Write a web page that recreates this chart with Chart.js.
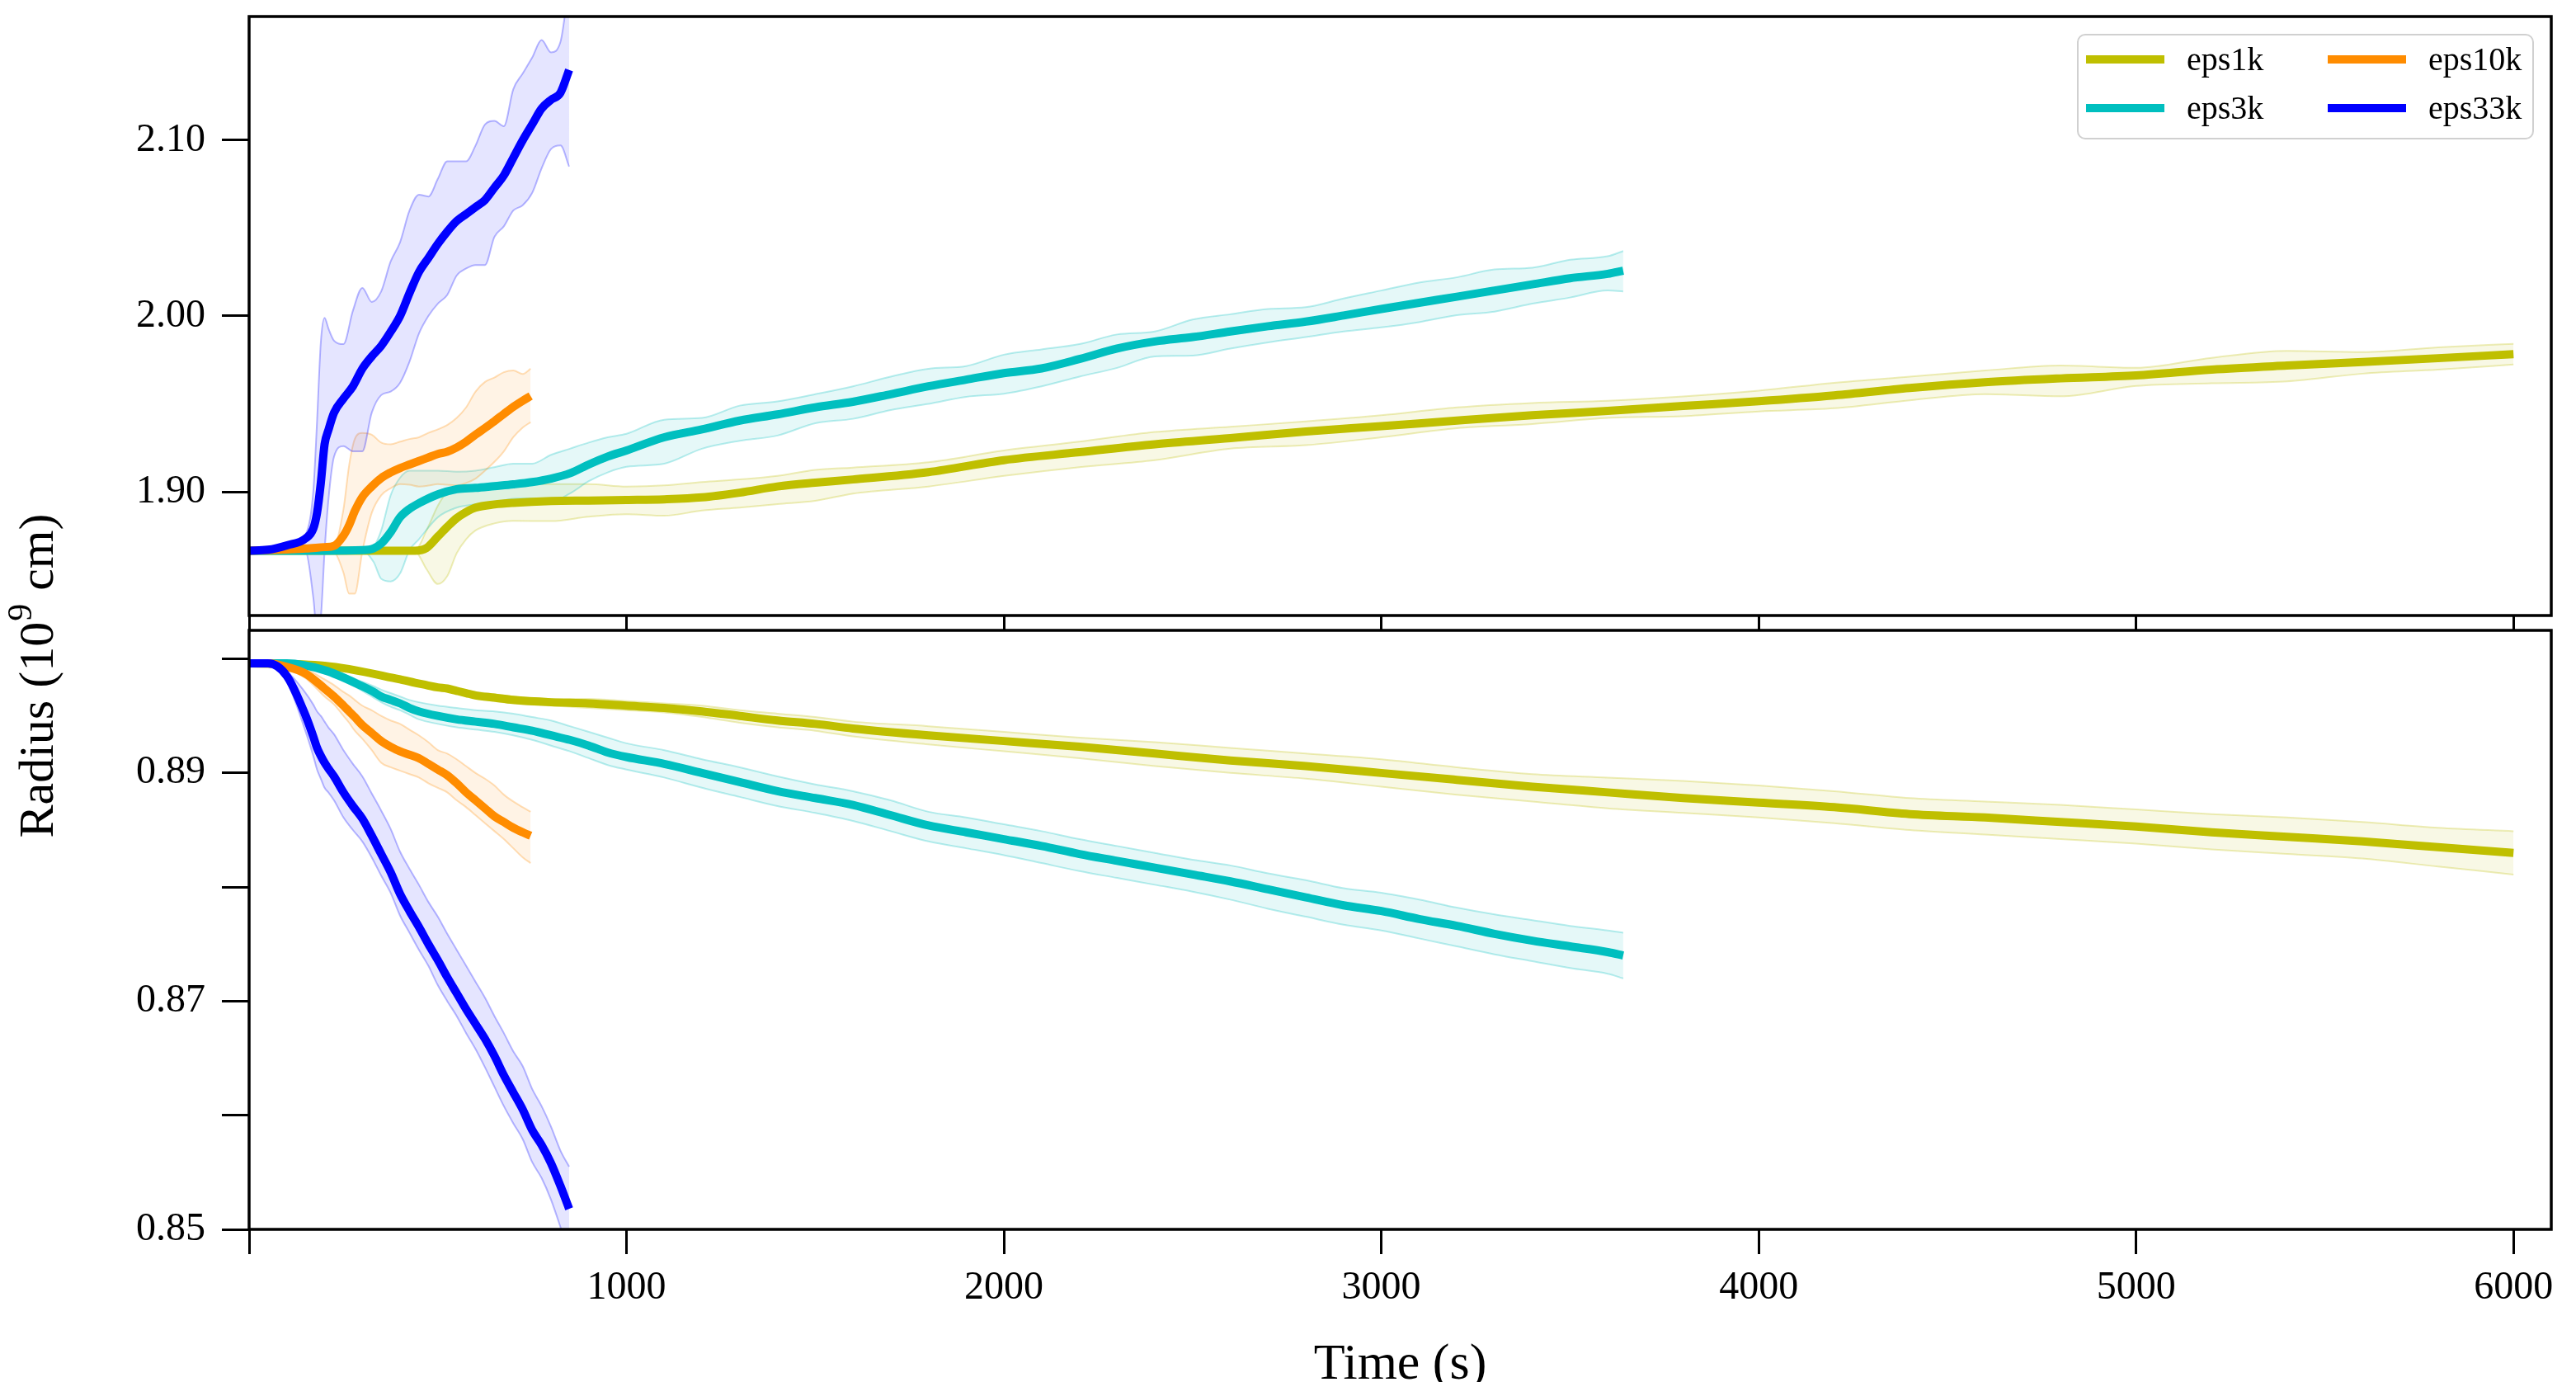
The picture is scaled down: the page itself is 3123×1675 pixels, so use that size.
<!DOCTYPE html>
<html>
<head>
<meta charset="utf-8">
<script src="https://cdn.jsdelivr.net/npm/chart.js@4.4.1/dist/chart.umd.min.js"></script>
<style>
html,body{margin:0;padding:0;background:#ffffff;}
#wrap{position:relative;width:3123px;height:1675px;overflow:hidden;background:#fff;}
#wrap canvas{position:absolute;left:0;top:0;}
</style>
</head>
<body>
<div id="wrap">
<canvas id="cTop" width="3123" height="1675"></canvas>
<canvas id="cBot" width="3123" height="1675"></canvas>
</div>
<script>
// ---------------- data ----------------
const SERIES = ['eps1k', 'eps3k', 'eps10k', 'eps33k'];
const X_TICKS = [0, 1000, 2000, 3000, 4000, 5000, 6000];
const TOP_Y_TICKS = [1.90, 2.00, 2.10];
const BOT_Y_TICKS = [0.85, 0.86, 0.87, 0.88, 0.89, 0.90];
const BOT_Y_LABELED = [0.85, 0.87, 0.89];
const X_TITLE = 'Time (s)';
const Y_TITLE_PARTS = ['Radius (10', '9', ' cm)'];

// eps1k
const T_1K = [0,200,400,440,470,500,525,550,575,600,650,700,800,900,1000,1100,1200,1300,1400,1500,1600,1800,2000,2200,2400,2600,2800,3000,3200,3400,3600,3800,4000,4200,4400,4600,4800,5000,5200,5400,5600,5800,6000];
const TOP_1K_MEAN = [1.8665,1.8665,1.8665,1.8665,1.8680,1.8745,1.8800,1.8850,1.8885,1.8910,1.8928,1.8937,1.8947,1.8950,1.8953,1.8957,1.8968,1.8995,1.9030,1.9052,1.9070,1.9112,1.9180,1.9225,1.9270,1.9305,1.9343,1.9373,1.9405,1.9435,1.9460,1.9488,1.9515,1.9548,1.9590,1.9623,1.9645,1.9662,1.9695,1.9718,1.9738,1.9760,1.9783];
const TOP_1K_HI = [1.8665,1.8665,1.8665,1.8668,1.8780,1.8920,1.9000,1.9020,1.9035,1.9038,1.9042,1.9044,1.9044,1.9044,1.9030,1.9036,1.9055,1.9070,1.9090,1.9125,1.9138,1.9168,1.9235,1.9285,1.9340,1.9370,1.9400,1.9435,1.9480,1.9505,1.9518,1.9542,1.9575,1.9620,1.9655,1.9690,1.9718,1.9705,1.9762,1.9802,1.9795,1.9822,1.9842];
const TOP_1K_LO = [1.8665,1.8665,1.8665,1.8660,1.8560,1.8475,1.8520,1.8650,1.8730,1.8780,1.8820,1.8835,1.8833,1.8858,1.8872,1.8864,1.8893,1.8910,1.8930,1.8948,1.8990,1.9030,1.9090,1.9140,1.9180,1.9245,1.9265,1.9310,1.9362,1.9385,1.9420,1.9430,1.9457,1.9475,1.9520,1.9555,1.9543,1.9602,1.9617,1.9628,1.9672,1.9695,1.9724];
const BOT_1K_MEAN = [0.8996,0.8994,0.8982,0.8979,0.8977,0.8975,0.8974,0.8972,0.8970,0.8968,0.8966,0.8964,0.8962,0.8961,0.8959,0.8957,0.8954,0.8950,0.8946,0.8943,0.8939,0.8933,0.8928,0.8923,0.8917,0.8911,0.8906,0.8900,0.8894,0.8888,0.8883,0.8878,0.8874,0.8870,0.8864,0.8861,0.8857,0.8853,0.8848,0.8844,0.8840,0.8835,0.8830];
const BOT_1K_HI = [0.8997,0.8995,0.8984,0.8981,0.8979,0.8977,0.8976,0.8974,0.8972,0.8971,0.8969,0.8967,0.8965,0.8965,0.8963,0.8961,0.8959,0.8955,0.8952,0.8949,0.8945,0.8941,0.8936,0.8931,0.8927,0.8922,0.8917,0.8912,0.8905,0.8899,0.8896,0.8893,0.8889,0.8884,0.8878,0.8875,0.8872,0.8868,0.8864,0.8861,0.8857,0.8852,0.8849];
const BOT_1K_LO = [0.8995,0.8993,0.8980,0.8977,0.8975,0.8973,0.8972,0.8970,0.8968,0.8966,0.8963,0.8961,0.8959,0.8957,0.8955,0.8953,0.8949,0.8944,0.8940,0.8937,0.8932,0.8925,0.8919,0.8913,0.8906,0.8900,0.8895,0.8888,0.8881,0.8875,0.8869,0.8865,0.8861,0.8856,0.8850,0.8846,0.8842,0.8838,0.8833,0.8829,0.8825,0.8818,0.8811];

// eps3k
const T_3K = [0,100,200,300,330,350,375,400,425,450,500,550,600,650,700,750,800,850,900,950,1000,1100,1200,1300,1400,1500,1600,1700,1800,1900,2000,2100,2200,2300,2400,2500,2600,2700,2800,2900,3000,3100,3200,3300,3400,3500,3600,3641];
const TOP_3K_MEAN = [1.8665,1.8665,1.8665,1.8668,1.8678,1.8705,1.8770,1.8855,1.8903,1.8935,1.8985,1.9015,1.9022,1.9032,1.9042,1.9055,1.9075,1.9105,1.9155,1.9200,1.9235,1.9310,1.9355,1.9405,1.9440,1.9480,1.9512,1.9555,1.9600,1.9638,1.9675,1.9702,1.9755,1.9815,1.9855,1.9880,1.9912,1.9942,1.9968,2.0003,2.0040,2.0075,2.0110,2.0145,2.0180,2.0215,2.0240,2.0258];
const TOP_3K_HI = [1.8665,1.8665,1.8665,1.8668,1.8690,1.8780,1.8980,1.9080,1.9120,1.9120,1.9120,1.9114,1.9120,1.9140,1.9160,1.9160,1.9210,1.9245,1.9280,1.9310,1.9330,1.9410,1.9420,1.9490,1.9514,1.9555,1.9600,1.9655,1.9700,1.9715,1.9780,1.9810,1.9840,1.9895,1.9912,1.9980,2.0010,2.0040,2.0050,2.0100,2.0145,2.0190,2.0220,2.0265,2.0275,2.0320,2.0340,2.0370];
const TOP_3K_LO = [1.8665,1.8665,1.8665,1.8665,1.8600,1.8505,1.8490,1.8535,1.8668,1.8730,1.8855,1.8910,1.8928,1.8938,1.8960,1.8962,1.8945,1.8990,1.9060,1.9110,1.9142,1.9160,1.9245,1.9290,1.9320,1.9390,1.9415,1.9465,1.9500,1.9540,1.9558,1.9600,1.9655,1.9705,1.9770,1.9775,1.9815,1.9850,1.9880,1.9912,1.9935,1.9965,2.0005,2.0025,2.0070,2.0105,2.0145,2.0140];
const BOT_3K_MEAN = [0.8996,0.8996,0.8990,0.8976,0.8971,0.8967,0.8964,0.8961,0.8957,0.8954,0.8950,0.8947,0.8945,0.8943,0.8940,0.8937,0.8933,0.8929,0.8924,0.8918,0.8914,0.8908,0.8900,0.8892,0.8884,0.8878,0.8872,0.8863,0.8854,0.8848,0.8842,0.8836,0.8829,0.8823,0.8817,0.8811,0.8805,0.8798,0.8791,0.8784,0.8779,0.8772,0.8766,0.8759,0.8753,0.8748,0.8743,0.8740];
const BOT_3K_HI = [0.8997,0.8997,0.8992,0.8980,0.8976,0.8973,0.8970,0.8967,0.8964,0.8962,0.8959,0.8957,0.8955,0.8954,0.8952,0.8949,0.8946,0.8941,0.8936,0.8931,0.8926,0.8920,0.8912,0.8905,0.8897,0.8890,0.8884,0.8876,0.8866,0.8861,0.8855,0.8849,0.8842,0.8836,0.8830,0.8824,0.8819,0.8812,0.8806,0.8799,0.8795,0.8789,0.8782,0.8776,0.8771,0.8766,0.8762,0.8760];
const BOT_3K_LO = [0.8995,0.8995,0.8988,0.8972,0.8966,0.8962,0.8958,0.8955,0.8951,0.8947,0.8943,0.8940,0.8938,0.8936,0.8933,0.8929,0.8924,0.8919,0.8913,0.8907,0.8903,0.8896,0.8887,0.8879,0.8871,0.8865,0.8858,0.8849,0.8840,0.8834,0.8828,0.8821,0.8814,0.8808,0.8802,0.8796,0.8789,0.8781,0.8774,0.8767,0.8762,0.8755,0.8748,0.8741,0.8735,0.8729,0.8724,0.8720];

// eps10k
const T_10K = [0,50,100,150,200,225,250,265,280,300,325,350,375,400,425,450,475,500,525,550,575,600,625,650,675,700,725,746];
const TOP_10K_MEAN = [1.8665,1.8668,1.8672,1.8677,1.8685,1.8692,1.8750,1.8810,1.8890,1.8970,1.9030,1.9078,1.9110,1.9135,1.9155,1.9175,1.9195,1.9215,1.9228,1.9252,1.9285,1.9325,1.9363,1.9402,1.9443,1.9483,1.9518,1.9545];
const TOP_10K_HI = [1.8665,1.8668,1.8672,1.8677,1.8685,1.8690,1.8900,1.9150,1.9300,1.9335,1.9325,1.9280,1.9270,1.9285,1.9300,1.9310,1.9335,1.9355,1.9380,1.9420,1.9480,1.9570,1.9625,1.9650,1.9680,1.9690,1.9670,1.9700];
const TOP_10K_LO = [1.8665,1.8665,1.8668,1.8670,1.8672,1.8660,1.8540,1.8420,1.8420,1.8660,1.8880,1.8980,1.9020,1.9044,1.9040,1.9030,1.9035,1.9044,1.9040,1.9036,1.9050,1.9075,1.9120,1.9170,1.9230,1.9310,1.9365,1.9396];
const BOT_10K_MEAN = [0.8996,0.8996,0.8993,0.8987,0.8974,0.8967,0.8959,0.8954,0.8949,0.8942,0.8935,0.8928,0.8923,0.8919,0.8916,0.8913,0.8908,0.8903,0.8898,0.8891,0.8883,0.8876,0.8869,0.8862,0.8857,0.8852,0.8848,0.8845];
const BOT_10K_HI = [0.8996,0.8996,0.8995,0.8991,0.8982,0.8977,0.8971,0.8968,0.8964,0.8959,0.8955,0.8950,0.8946,0.8943,0.8938,0.8933,0.8927,0.8920,0.8917,0.8912,0.8906,0.8900,0.8895,0.8889,0.8881,0.8875,0.8870,0.8866];
const BOT_10K_LO = [0.8996,0.8995,0.8991,0.8983,0.8967,0.8960,0.8950,0.8944,0.8937,0.8930,0.8920,0.8909,0.8905,0.8902,0.8899,0.8896,0.8891,0.8887,0.8883,0.8876,0.8870,0.8863,0.8856,0.8849,0.8842,0.8834,0.8826,0.8821];

// eps33k
const T_33K = [0,50,100,150,170,180,190,200,210,225,250,275,300,325,350,375,400,425,450,475,500,525,550,575,600,625,650,675,700,725,750,775,800,825,848];
const TOP_33K_MEAN = [1.8665,1.8670,1.8695,1.8735,1.8790,1.8880,1.9050,1.9270,1.9350,1.9450,1.9530,1.9600,1.9700,1.9770,1.9830,1.9910,2.0000,2.0130,2.0250,2.0330,2.0410,2.0480,2.0540,2.0580,2.0620,2.0660,2.0730,2.0800,2.0900,2.1000,2.1090,2.1180,2.1230,2.1270,2.1400];
const TOP_33K_HI = [1.8665,1.8680,1.8700,1.8760,1.9000,1.9400,1.9850,1.9990,1.9930,1.9860,1.9840,2.0030,2.0160,2.0080,2.0140,2.0310,2.0420,2.0600,2.0690,2.0680,2.0780,2.0880,2.0880,2.0880,2.0970,2.1090,2.1110,2.1080,2.1290,2.1380,2.1470,2.1570,2.1500,2.1560,2.1900];
const TOP_33K_LO = [1.8665,1.8665,1.8680,1.8660,1.8400,1.8200,1.8280,1.8660,1.8950,1.9200,1.9260,1.9230,1.9230,1.9450,1.9550,1.9570,1.9620,1.9740,1.9900,2.0000,2.0070,2.0120,2.0230,2.0270,2.0290,2.0290,2.0450,2.0510,2.0600,2.0630,2.0700,2.0840,2.0950,2.0970,2.0850];
const BOT_33K_MEAN = [0.8996,0.8996,0.8985,0.8950,0.8932,0.8922,0.8915,0.8909,0.8904,0.8897,0.8883,0.8871,0.8860,0.8845,0.8829,0.8813,0.8794,0.8779,0.8765,0.8750,0.8736,0.8721,0.8707,0.8693,0.8680,0.8667,0.8652,0.8635,0.8620,0.8605,0.8587,0.8574,0.8558,0.8538,0.8518];
const BOT_33K_HI = [0.8996,0.8997,0.8989,0.8970,0.8960,0.8954,0.8950,0.8945,0.8940,0.8934,0.8920,0.8908,0.8897,0.8882,0.8867,0.8851,0.8831,0.8816,0.8802,0.8787,0.8774,0.8759,0.8745,0.8731,0.8717,0.8703,0.8687,0.8672,0.8656,0.8643,0.8623,0.8608,0.8590,0.8569,0.8555];
const BOT_33K_LO = [0.8996,0.8995,0.8980,0.8936,0.8915,0.8903,0.8895,0.8887,0.8883,0.8876,0.8861,0.8850,0.8840,0.8826,0.8810,0.8795,0.8775,0.8760,0.8745,0.8731,0.8714,0.8700,0.8687,0.8672,0.8658,0.8642,0.8625,0.8608,0.8593,0.8579,0.8559,0.8545,0.8526,0.8502,0.8478];

// ---------------- styling / layout ----------------
const SERIES_RGB = [[191,191,0],[0,191,191],[255,140,0],[0,0,255]];
const FONT = 'Liberation Serif';
const CANVAS_H = 1675;
const X_RANGE = [0, 6100];
const TOP_RANGE = [1.8296, 2.1704];
const BOT_RANGE = [0.85, 0.9025];
const PLOT_LEFT = 302, PLOT_RIGHT_PAD = 30;

const rgba = (c, a) => `rgba(${c[0]},${c[1]},${c[2]},${a})`;
const pts = (ts, vs) => ts.map((t, i) => ({x: t, y: vs[i]}));

const TIMES = [T_1K, T_3K, T_10K, T_33K];
const PANEL = {
  top: {mean: [TOP_1K_MEAN, TOP_3K_MEAN, TOP_10K_MEAN, TOP_33K_MEAN],
        hi:   [TOP_1K_HI, TOP_3K_HI, TOP_10K_HI, TOP_33K_HI],
        lo:   [TOP_1K_LO, TOP_3K_LO, TOP_10K_LO, TOP_33K_LO]},
  bot: {mean: [BOT_1K_MEAN, BOT_3K_MEAN, BOT_10K_MEAN, BOT_33K_MEAN],
        hi:   [BOT_1K_HI, BOT_3K_HI, BOT_10K_HI, BOT_33K_HI],
        lo:   [BOT_1K_LO, BOT_3K_LO, BOT_10K_LO, BOT_33K_LO]}
};

function buildDatasets(panel) {
  const p = PANEL[panel];
  const ds = [];
  const common = {pointRadius: 0, cubicInterpolationMode: 'monotone', clip: 0, borderJoinStyle: 'round'};
  SERIES.forEach((name, k) => {
    const c = SERIES_RGB[k];
    ds.push(Object.assign({}, common, {
      label: name + ' lower', data: pts(TIMES[k], p.lo[k]),
      borderColor: rgba(c, 0.28), borderWidth: 2, fill: false, order: 40 - k, isBand: true
    }));
    ds.push(Object.assign({}, common, {
      label: name + ' upper', data: pts(TIMES[k], p.hi[k]),
      borderColor: rgba(c, 0.28), borderWidth: 2, fill: '-1',
      backgroundColor: rgba(c, 0.1), order: 40 - k, isBand: true
    }));
  });
  SERIES.forEach((name, k) => {
    const c = SERIES_RGB[k];
    ds.push(Object.assign({}, common, {
      label: name, data: pts(TIMES[k], p.mean[k]),
      borderColor: rgba(c, 1), borderWidth: 10, fill: false,
      borderCapStyle: 'butt', order: 3 - k
    }));
  });
  return ds;
}

const framePlugin = {
  id: 'frame',
  afterDatasetsDraw(chart) {
    const a = chart.chartArea, ctx = chart.ctx;
    ctx.save();
    ctx.strokeStyle = '#000';
    ctx.lineWidth = 3.5;
    ctx.strokeRect(a.left, a.top, a.right - a.left, a.bottom - a.top);
    ctx.restore();
  }
};

const legendPlugin = {
  id: 'boxLegend',
  afterDraw(chart) {
    const a = chart.chartArea, ctx = chart.ctx;
    const bx = a.right - 22 - 552, by = a.top + 22, bw = 552, bh = 126;
    ctx.save();
    ctx.beginPath();
    ctx.roundRect(bx, by, bw, bh, 9);
    ctx.fillStyle = 'rgba(255,255,255,0.85)';
    ctx.fill();
    ctx.lineWidth = 2;
    ctx.strokeStyle = '#d0d0d0';
    ctx.stroke();
    ctx.font = `40px "${FONT}"`;
    ctx.textBaseline = 'middle';
    ctx.textAlign = 'left';
    const means = chart.data.datasets.filter(d => !d.isBand);
    means.forEach((d, i) => {
      const col = Math.floor(i / 2), row = i % 2;
      const lx = bx + 10 + col * 293;
      const ly = by + 30 + row * 59;
      ctx.strokeStyle = d.borderColor;
      ctx.lineWidth = 10;
      ctx.lineCap = 'butt';
      ctx.beginPath();
      ctx.moveTo(lx, ly);
      ctx.lineTo(lx + 95, ly);
      ctx.stroke();
      ctx.fillStyle = '#000';
      ctx.fillText(d.label, lx + 122, ly + 2);
    });
    ctx.restore();
  }
};

const titlesPlugin = {
  id: 'titles',
  afterDraw(chart) {
    const ctx = chart.ctx, a = chart.chartArea;
    ctx.save();
    ctx.fillStyle = '#000';
    // x title
    ctx.font = `62px "${FONT}"`;
    ctx.textAlign = 'center';
    ctx.textBaseline = 'alphabetic';
    ctx.fillText(X_TITLE, (a.left + a.right) / 2, 1671);
    // y title (rotated, spans both panels)
    ctx.translate(64, 820);
    ctx.rotate(-Math.PI / 2);
    const big = `60px "${FONT}"`, small = `42px "${FONT}"`;
    ctx.textAlign = 'left';
    ctx.font = big;
    const w0 = ctx.measureText(Y_TITLE_PARTS[0]).width;
    const w2 = ctx.measureText(Y_TITLE_PARTS[2]).width;
    ctx.font = small;
    const w1 = ctx.measureText(Y_TITLE_PARTS[1]).width;
    let x = -(w0 + w1 + w2) / 2;
    ctx.font = big;
    ctx.fillText(Y_TITLE_PARTS[0], x, 0);
    x += w0;
    ctx.font = small;
    ctx.fillText(Y_TITLE_PARTS[1], x + 1, -26);
    x += w1 + 2;
    ctx.font = big;
    ctx.fillText(Y_TITLE_PARTS[2], x, 0);
    ctx.restore();
  }
};

function makeChart(id, panel) {
  const isTop = panel === 'top';
  const chartTop = isTop ? 20 : 764;
  const chartBottom = isTop ? 746 : 1490;
  const yRange = isTop ? TOP_RANGE : BOT_RANGE;
  const yTicks = isTop ? TOP_Y_TICKS : BOT_Y_TICKS;
  const tickFont = {family: FONT, size: 48, lineHeight: 1.2};
  return new Chart(document.getElementById(id), {
    type: 'line',
    data: {datasets: buildDatasets(panel)},
    options: {
      responsive: false,
      animation: false,
      events: [],
      layout: {padding: {top: chartTop, left: 0, right: PLOT_RIGHT_PAD, bottom: 0}},
      plugins: {legend: {display: false}, tooltip: {enabled: false}},
      scales: {
        x: {
          type: 'linear', min: X_RANGE[0], max: X_RANGE[1],
          afterBuildTicks: s => { s.ticks = X_TICKS.map(v => ({value: v})); },
          afterFit: s => {
            s.height = CANVAS_H - chartBottom;
            s.paddingLeft = 0; s.paddingRight = 0; s.paddingTop = 0; s.paddingBottom = 0;
          },
          border: {display: false},
          grid: {drawOnChartArea: false, drawTicks: true, tickLength: isTop ? 18 : 30, tickWidth: 3, tickColor: '#000'},
          ticks: {
            autoSkip: false, maxRotation: 0, padding: 13, color: '#000', font: tickFont,
            callback: v => (isTop || v === 0) ? '' : String(v)
          }
        },
        y: {
          type: 'linear', min: yRange[0], max: yRange[1],
          afterBuildTicks: s => { s.ticks = yTicks.map(v => ({value: v})); },
          afterFit: s => {
            s.width = PLOT_LEFT;
            s.paddingLeft = 0; s.paddingRight = 0; s.paddingTop = 0; s.paddingBottom = 0;
          },
          border: {display: false},
          grid: {drawOnChartArea: false, drawTicks: true, tickLength: 33, tickWidth: 3, tickColor: '#000'},
          ticks: {
            autoSkip: false, padding: 20, color: '#000', font: tickFont,
            callback: v => {
              if (isTop) return v.toFixed(2);
              return BOT_Y_LABELED.some(l => Math.abs(l - v) < 1e-9) ? v.toFixed(2) : '';
            }
          }
        }
      }
    },
    plugins: isTop ? [framePlugin, legendPlugin] : [framePlugin, titlesPlugin]
  });
}

makeChart('cTop', 'top');
makeChart('cBot', 'bot');
</script>
</body>
</html>
